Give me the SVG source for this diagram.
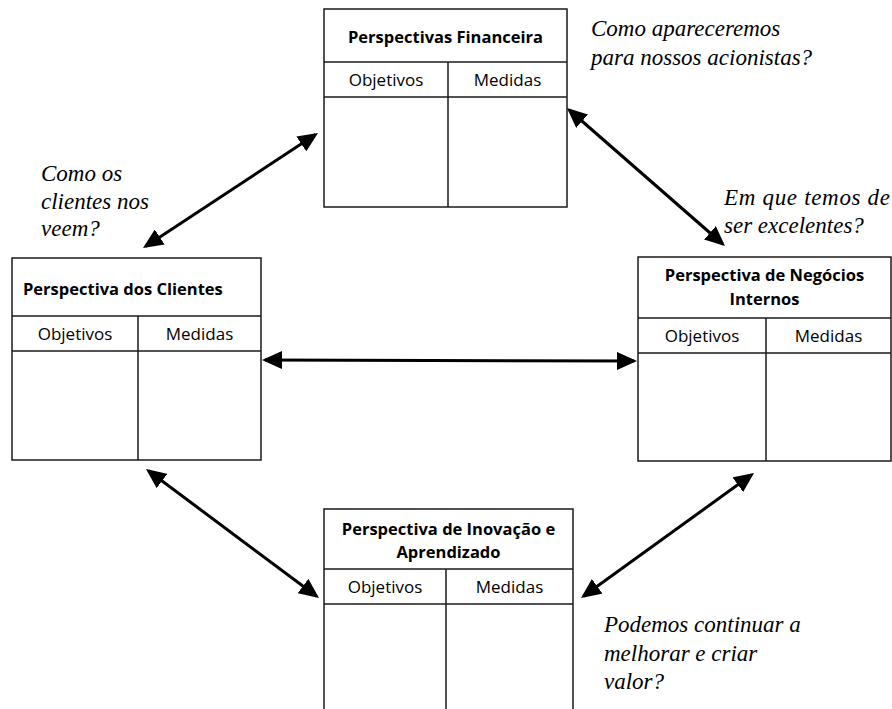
<svg xmlns="http://www.w3.org/2000/svg" width="892" height="709" viewBox="0 0 892 709">
<defs>
<style>
.box{fill:#fff;stroke:#1a1a1a;stroke-width:1.5}
.ln{stroke:#1a1a1a;stroke-width:1.5;fill:none}
.title{font-family:"Open Sans","Noto Sans",sans-serif;font-weight:bold;font-size:16.5px;fill:#000}
.col{font-family:"Open Sans","Noto Sans",sans-serif;font-size:17px;fill:#000;text-anchor:middle}
.note{font-family:"Liberation Serif","Times New Roman",serif;font-style:italic;font-size:23px;fill:#000}
.arr{stroke:#000;stroke-width:3;fill:none;marker-start:url(#ah);marker-end:url(#ah)}
</style>
<marker id="ah" viewBox="0 0 20 18" refX="17" refY="9" markerWidth="20" markerHeight="18" markerUnits="userSpaceOnUse" orient="auto-start-reverse">
<path d="M0,0 L20,9 L0,18 z" fill="#000"/>
</marker>
</defs>
<rect width="892" height="709" fill="#fff"/>

<g id="financeira">
<rect class="box" x="324" y="9" width="243" height="198"/>
<line class="ln" x1="324" y1="62" x2="567" y2="62"/>
<line class="ln" x1="324" y1="97" x2="567" y2="97"/>
<line class="ln" x1="448" y1="62" x2="448" y2="207"/>
<text class="title" x="445.5" y="43" text-anchor="middle">Perspectivas Financeira</text>
<text class="col" x="386" y="86">Objetivos</text>
<text class="col" x="507.5" y="86">Medidas</text>
</g>

<g id="clientes">
<rect class="box" x="12" y="258" width="249" height="202"/>
<line class="ln" x1="12" y1="316" x2="261" y2="316"/>
<line class="ln" x1="12" y1="351" x2="261" y2="351"/>
<line class="ln" x1="138" y1="316" x2="138" y2="460"/>
<text class="title" x="23" y="295">Perspectiva dos Clientes</text>
<text class="col" x="75" y="340">Objetivos</text>
<text class="col" x="199.5" y="340">Medidas</text>
</g>

<g id="negocios">
<rect class="box" x="638" y="257" width="253" height="204"/>
<line class="ln" x1="638" y1="318" x2="891" y2="318"/>
<line class="ln" x1="638" y1="353" x2="891" y2="353"/>
<line class="ln" x1="766" y1="318" x2="766" y2="461"/>
<text class="title" x="764.5" y="281" text-anchor="middle">Perspectiva de Negócios</text>
<text class="title" x="764.5" y="305" text-anchor="middle">Internos</text>
<text class="col" x="702" y="342">Objetivos</text>
<text class="col" x="828.5" y="342">Medidas</text>
</g>

<g id="inovacao">
<rect class="box" x="324" y="509" width="249" height="210"/>
<line class="ln" x1="324" y1="569" x2="573" y2="569"/>
<line class="ln" x1="324" y1="604" x2="573" y2="604"/>
<line class="ln" x1="446" y1="569" x2="446" y2="719"/>
<text class="title" x="448.5" y="535" text-anchor="middle">Perspectiva de Inovação e</text>
<text class="title" x="448.5" y="558" text-anchor="middle">Aprendizado</text>
<text class="col" x="385" y="593">Objetivos</text>
<text class="col" x="509.5" y="593">Medidas</text>
</g>

<g id="connectors">
<line class="arr" x1="145.5" y1="246.4" x2="315.5" y2="134.6"/>
<line class="arr" x1="569.3" y1="110" x2="722.7" y2="244"/>
<line class="arr" x1="265" y1="360" x2="634" y2="361"/>
<line class="arr" x1="148.4" y1="470.8" x2="316.6" y2="596.2"/>
<line class="arr" x1="751.6" y1="474.8" x2="583.4" y2="596.2"/>
</g>

<g id="notes">
<text class="note" x="591" y="36">Como apareceremos</text>
<text class="note" x="591" y="65">para nossos acionistas?</text>
<text class="note" x="41" y="181">Como os</text>
<text class="note" x="41" y="209">clientes nos</text>
<text class="note" x="41" y="236">veem?</text>
<text class="note" x="724" y="205" textLength="166" lengthAdjust="spacing">Em que temos de</text>
<text class="note" x="724" y="233">ser excelentes?</text>
<text class="note" x="604" y="632">Podemos continuar a</text>
<text class="note" x="604" y="661">melhorar e criar</text>
<text class="note" x="604" y="689">valor?</text>
</g>
</svg>
